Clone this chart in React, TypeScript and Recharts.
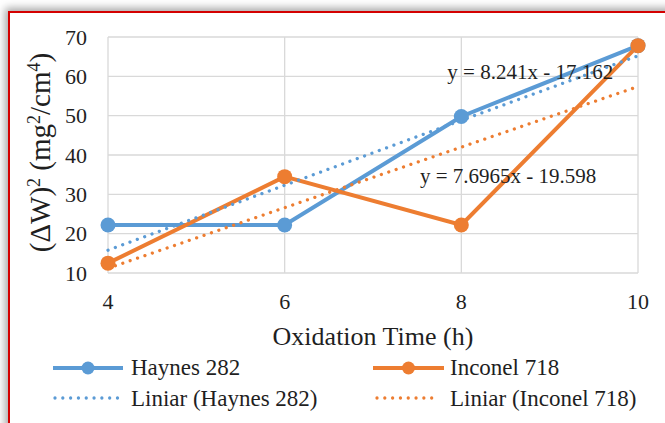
import React from "react";
import { CartesianGrid, Legend, Line, LineChart, ReferenceDot, XAxis, YAxis } from "recharts";

// oxidation hours (x) and squared mass gain readings (y)
const hours = [4, 6, 8, 10];
const haynes = [22.2, 22.2, 49.8, 67.8];
const inconel = [12.5, 34.5, 22.2, 67.8];
// linear trendlines as drawn in the picture
const haynesTrend = [15.8, 32.3, 48.8, 65.2];
const inconelTrend = [11.2, 26.6, 42.0, 57.4];
const yTicks = [10, 20, 30, 40, 50, 60, 70];

const seriesNames = ["Haynes 282", "Inconel 718"];
const equations = ["y = 8.241x - 17.162", "y = 7.6965x - 19.598"];
const equationSpots = [
  { x: 8.78, y: 61.2 },
  { x: 8.53, y: 34.8 },
];

const BLUE = "#5b9bd5";
const ORANGE = "#ed7d31";
const FONT = "'Liberation Serif', serif";
const TEXT = "#1f1f1f";

const chartData = hours.map((hour, i) => ({
  hour,
  haynes: haynes[i],
  inconel: inconel[i],
  haynesTrend: haynesTrend[i],
  inconelTrend: inconelTrend[i],
}));

const colors = [BLUE, ORANGE];

function LegendBox() {
  const cols = [
    { line: [53, 123], dotted: [55, 118], text: 131 },
    { line: [373, 444], dotted: [377, 438], text: 450 },
  ];
  return (
    <svg width={665} height={70} style={{ display: "block" }}>
      {cols.map((c, i) => (
        <g key={seriesNames[i]}>
          <line x1={c.line[0]} x2={c.line[1]} y1={18} y2={18} stroke={colors[i]} strokeWidth={4} />
          <circle cx={(c.line[0] + c.line[1]) / 2} cy={18} r={6.5} fill={colors[i]} />
          <text x={c.text} y={25} fontSize={23} fontFamily={FONT} fill={TEXT}>
            {seriesNames[i]}
          </text>
          <line
            x1={c.dotted[0]}
            x2={c.dotted[1]}
            y1={48}
            y2={48}
            stroke={colors[i]}
            strokeWidth={3.3}
            strokeLinecap="round"
            strokeDasharray="0.01 7.8"
          />
          <text x={c.text} y={55.5} fontSize={23} fontFamily={FONT} fill={TEXT}>
            {`Liniar (${seriesNames[i]})`}
          </text>
        </g>
      ))}
    </svg>
  );
}

function XTick(props: any) {
  const { x, y, payload } = props;
  return (
    <text x={x} y={y} dy={15.6} textAnchor="middle" fontSize={22} fontFamily={FONT} fill={TEXT}>
      {payload.value}
    </text>
  );
}

function YTick(props: any) {
  const { x, y, payload } = props;
  return (
    <text x={x} y={y} dy={7.6} textAnchor="end" fontSize={22} fontFamily={FONT} fill={TEXT}>
      {payload.value}
    </text>
  );
}

function XTitle(props: any) {
  const vb = props.viewBox;
  return (
    <text x={vb.x + vb.width / 2} y={vb.y + vb.height + 42} textAnchor="middle" fontSize={26} fontFamily={FONT} fill={TEXT}>
      Oxidation Time (h)
    </text>
  );
}

function YTitle(props: any) {
  const vb = props.viewBox;
  const cx = vb.x + 2;
  const cy = vb.y + vb.height / 2 - 2.5;
  const sup = { fontSize: 18 };
  return (
    <text x={cx} y={cy} transform={`rotate(-90, ${cx}, ${cy})`} textAnchor="middle" fontSize={29} fontFamily={FONT} fill={TEXT}>
      <tspan>(ΔW)</tspan>
      <tspan dy={-10} {...sup}>2</tspan>
      <tspan dy={10}> (mg</tspan>
      <tspan dy={-10} {...sup}>2</tspan>
      <tspan dy={10}>/cm</tspan>
      <tspan dy={-10} {...sup}>4</tspan>
      <tspan dy={10}>)</tspan>
    </text>
  );
}

export default function App() {
  return (
    <div style={styles.page}>
      <div style={styles.frame} />
      <div style={styles.chart}>
        <LineChart width={665} height={423} data={chartData} margin={{ top: 37, right: 27, left: 48, bottom: 120 }}>
          <CartesianGrid stroke="#d9d9d9" strokeWidth={1.3} />
          <XAxis
            dataKey="hour"
            type="number"
            domain={[4, 10]}
            ticks={hours}
            height={30}
            tickSize={6}
            tickMargin={14}
            tickLine={false}
            axisLine={false}
            tick={<XTick />}
            label={<XTitle />}
          />
          <YAxis
            type="number"
            domain={[10, 70]}
            ticks={yTicks}
            width={60}
            tickSize={6}
            tickMargin={15}
            tickLine={false}
            axisLine={false}
            tick={<YTick />}
            label={<YTitle />}
          />
          <Line
            dataKey="haynes"
            stroke={BLUE}
            strokeWidth={4}
            dot={{ r: 7.5, fill: BLUE, stroke: BLUE, strokeWidth: 0 }}
            isAnimationActive={false}
          />
          <Line
            dataKey="inconel"
            stroke={ORANGE}
            strokeWidth={4}
            dot={{ r: 7.5, fill: ORANGE, stroke: ORANGE, strokeWidth: 0 }}
            isAnimationActive={false}
          />
          <Line
            dataKey="haynesTrend"
            stroke={BLUE}
            strokeWidth={3.3}
            strokeLinecap="round"
            strokeDasharray="0.01 7.8"
            dot={false}
            isAnimationActive={false}
          />
          <Line
            dataKey="inconelTrend"
            stroke={ORANGE}
            strokeWidth={3.3}
            strokeLinecap="round"
            strokeDasharray="0.01 7.8"
            dot={false}
            isAnimationActive={false}
          />
          {equationSpots.map((spot, i) => (
            <ReferenceDot
              key={equations[i]}
              x={spot.x}
              y={spot.y}
              r={0}
              fill="none"
              stroke="none"
              label={{ value: equations[i], position: "center", fill: TEXT, fontSize: 21, fontFamily: FONT }}
            />
          ))}
          <Legend
            layout="horizontal"
            verticalAlign="middle"
            align="center"
            wrapperStyle={{ left: 0, top: 350, width: 665, height: 70 }}
            content={() => <LegendBox />}
          />
        </LineChart>
      </div>
    </div>
  );
}

const styles: Record<string, React.CSSProperties> = {
  page: {
    position: "absolute",
    left: 0,
    top: 0,
    width: 665,
    height: 423,
    overflow: "hidden",
    background: "#ffffff",
  },
  frame: {
    position: "absolute",
    left: 8,
    top: 11,
    width: 680,
    height: 440,
    background: "#ffffff",
    borderTop: "2px solid #d40000",
    borderLeft: "2px solid #d40000",
    boxShadow: "-3px -3px 8px rgba(0, 0, 0, 0.35)",
  },
  chart: {
    position: "absolute",
    left: 0,
    top: 0,
  },
};
